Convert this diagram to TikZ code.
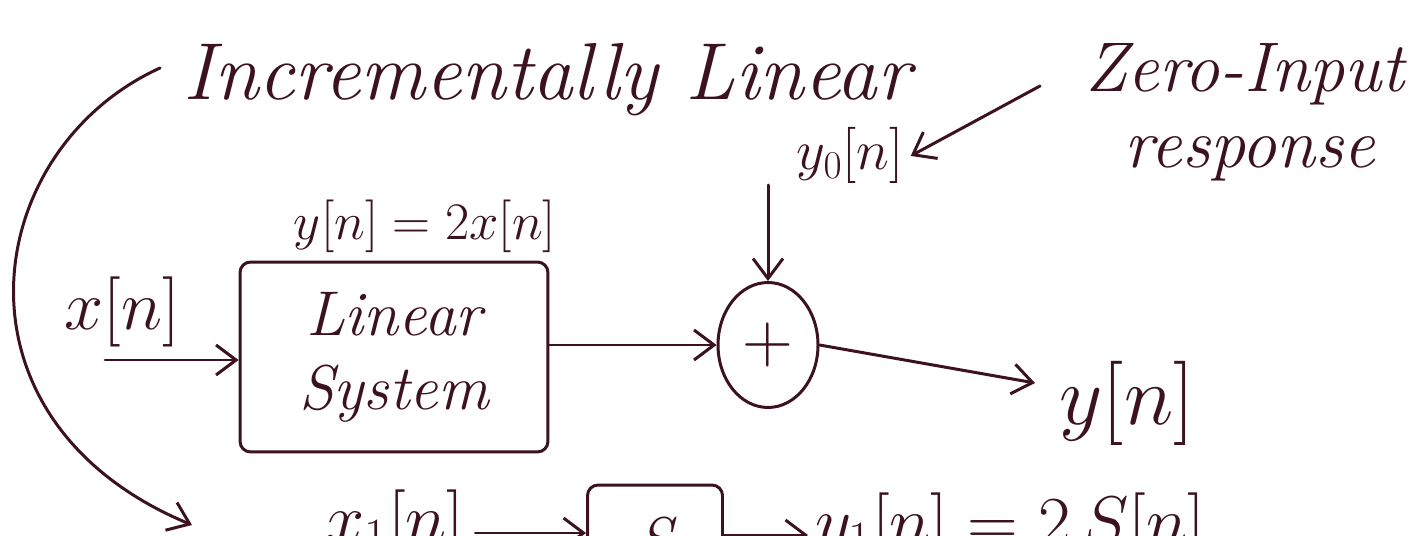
\RequirePackage{fix-cm}
\documentclass[tikz,border=0pt]{standalone}
\usetikzlibrary{arrows.meta,shapes.geometric}
\definecolor{ink}{RGB}{60,18,32}
\tikzset{
  ink/.style={draw=ink, line width=1.7pt, line cap=round, line join=round},
  >={Straight Barb[length=4mm,width=6mm]},
  lbl/.style={text=ink, inner sep=0pt, anchor=base},
  boxst/.style={ink, rounded corners=6pt, inner sep=0pt},
}
\begin{document}
\begin{tikzpicture}[x=0.02cm,y=-0.02cm]
\useasboundingbox (0,0) rectangle (1416,536);
\clip (0,0) rectangle (1416,536);
\fill[white] (0,0) rectangle (1416,536);
% texts
\node[lbl, font=\fontsize{46}{50}\selectfont\itshape] (title) at (547,100) {Incrementally Linear};
\node[lbl, font=\fontsize{40}{44}\selectfont\itshape] (zero) at (1245,92) {Zero-Input};
\node[lbl, font=\fontsize{40}{44}\selectfont\itshape] (resp) at (1250,168) {response};
\node[lbl, font=\fontsize{32}{36}\selectfont] (y0) at (850,170) {$y_0[n]$};
\node[lbl, font=\fontsize{30}{34}\selectfont] (eq) at (425,240) {$y[n]=2x[n]$};
\node[lbl, font=\fontsize{40}{44}\selectfont] (xin) at (122,330) {$x[n]$};
\node[lbl, font=\fontsize{48}{52}\selectfont] (yout) at (1127,425) {$y[n]$};
% linear system box
\node[boxst, minimum width=6.16cm, minimum height=3.8cm, align=center,
      font=\fontsize{36}{42}\selectfont\itshape, text=ink] (sys) at (394,357) {Linear\\System};
% adder
\node[ink, ellipse, minimum width=2cm, minimum height=2.5cm, inner sep=0pt,
      font=\fontsize{40}{44}\selectfont, text=ink] (sum) at (768,345) {$+$};
% coordinates for free ends
\coordinate (curveStart) at (160,68);
\coordinate (curveEnd) at (192,525);
\coordinate (inStart) at (105,360);
\coordinate (y0top) at (768,185);
\coordinate (zeroTail) at (1040,86);
\coordinate (outEnd) at (1035,383);
% connectors
\draw[ink,->] (curveStart) .. controls (-20,150) and (-60,420) .. (curveEnd);
\draw[ink,->] (inStart) -- (sys.west |- inStart);
\draw[ink,->] (sys.east |- sum.west) -- (sum.west);
\draw[ink,->] (y0top) -- (sum.north);
\draw[ink,->] (zeroTail) -- ([xshift=4pt]y0.east);
\draw[ink,->] (sum.east) -- (outEnd);
% bottom row (cut off by the lower edge, as in the reference)
\node[lbl, font=\fontsize{40}{44}\selectfont] (x1) at (395,542) {$x_1[n]$};
\node[boxst, minimum width=2.7cm, minimum height=2.2cm,
      font=\fontsize{36}{42}\selectfont\itshape, text=ink] (box2) at (655,540) {S};
\node[lbl, font=\fontsize{40}{44}\selectfont, anchor=base west] (y1) at (815,545) {$y_1[n] = 2\,S[n]$};
\draw[ink,->] ([xshift=6pt]x1.east |- 0,533) -- (box2.west |- 0,533);
\draw[ink,->] (box2.east |- 0,535) -- ([xshift=-4pt]y1.west |- 0,535);
\end{tikzpicture}
\end{document}
